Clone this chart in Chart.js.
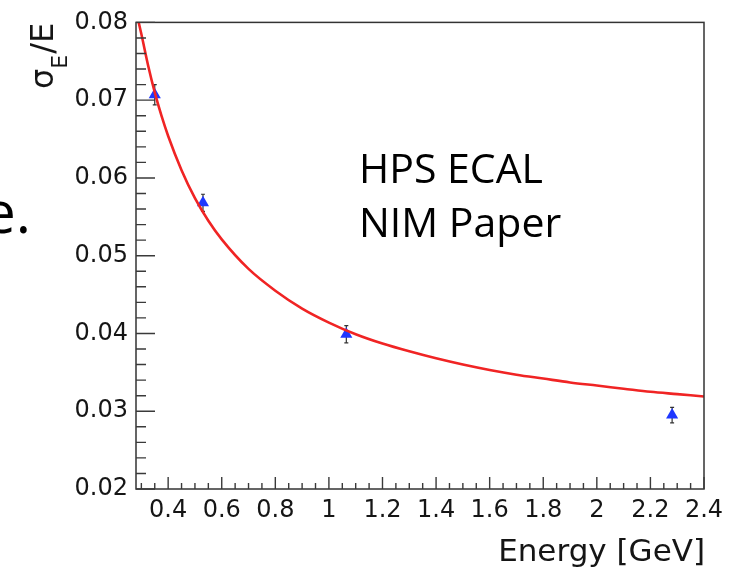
<!DOCTYPE html>
<html>
<head>
<meta charset="utf-8">
<script src="https://cdn.jsdelivr.net/npm/chart.js@4.4.1/dist/chart.umd.min.js"></script>
<style>
  html, body { margin: 0; padding: 0; background: #fff; }
  #wrap { width: 748px; height: 569px; position: relative; }
</style>
</head>
<body>
<div id="wrap"><canvas id="res" width="748" height="569"></canvas></div>
<script>
// measured points (energy in GeV, relative resolution, error)
const measEnergy = [0.35, 0.530, 1.065, 2.281];
const measSigma = [0.0707, 0.0568, 0.0399, 0.0295];
const measErr = [0.0013, 0.0011, 0.0011, 0.0010];

// fit curve
const fitEnergy = [0.29, 0.30, 0.325, 0.35, 0.375, 0.40, 0.45, 0.50, 0.55, 0.60, 0.70, 0.80, 0.90, 1.00,
                   1.10, 1.20, 1.30, 1.40, 1.50, 1.60, 1.70, 1.80, 1.90, 2.00, 2.10, 2.20, 2.30, 2.40];
const fitSigma = [0.0800, 0.0785, 0.0745, 0.0710, 0.0680, 0.0654, 0.0610, 0.0574, 0.0545, 0.0521, 0.0483,
                  0.0455, 0.0432, 0.0414, 0.0399, 0.0387, 0.0377, 0.0368, 0.0360, 0.0353, 0.0347, 0.0342,
                  0.0337, 0.0333, 0.0329, 0.0325, 0.0322, 0.0319];

// axes
const energyTicks = [0.4, 0.6, 0.8, 1.0, 1.2, 1.4, 1.6, 1.8, 2.0, 2.2, 2.4];
const sigmaTicks = [0.02, 0.03, 0.04, 0.05, 0.06, 0.07, 0.08];
const xMin = 0.28, xMax = 2.4, xMinorStep = 0.05;
const yMin = 0.02, yMax = 0.08, yMinorStep = 0.002;

const axisFont = 'DejaVu Sans';
const inkColor = '#151515';

const decor = {
  id: 'decor',
  beforeDatasetsDraw(chart) {
    // error bars under the markers
    const ctx = chart.ctx, x = chart.scales.x, y = chart.scales.y;
    ctx.save();
    ctx.strokeStyle = '#333';
    ctx.lineWidth = 1.2;
    for (let i = 0; i < measEnergy.length; i++) {
      const px = x.getPixelForValue(measEnergy[i]);
      const top = y.getPixelForValue(measSigma[i] + measErr[i]);
      const bot = y.getPixelForValue(measSigma[i] - measErr[i]);
      ctx.beginPath();
      ctx.moveTo(px, top); ctx.lineTo(px, bot);
      ctx.moveTo(px - 2, top); ctx.lineTo(px + 2, top);
      ctx.moveTo(px - 2, bot); ctx.lineTo(px + 2, bot);
      ctx.stroke();
    }
    ctx.restore();
  },
  afterDraw(chart) {
    const ctx = chart.ctx, a = chart.chartArea, x = chart.scales.x, y = chart.scales.y;
    ctx.save();
    // frame
    ctx.strokeStyle = '#333';
    ctx.lineWidth = 1.5;
    ctx.strokeRect(a.left, a.top, a.right - a.left, a.bottom - a.top);

    // inside ticks, ROOT style
    ctx.lineWidth = 1.4;
    ctx.strokeStyle = '#3a3a3a';
    ctx.beginPath();
    for (let v = xMin; v <= xMax + 1e-9; v += xMinorStep) {
      const r = Math.round(v / xMinorStep) * xMinorStep;
      if (r < xMin - 1e-9) continue;
      const px = x.getPixelForValue(r);
      const major = Math.abs(r / 0.2 - Math.round(r / 0.2)) < 1e-6;
      ctx.moveTo(px, a.bottom);
      ctx.lineTo(px, a.bottom - (major ? 12 : 6));
    }
    for (let v = yMin; v <= yMax + 1e-9; v += yMinorStep) {
      const py = y.getPixelForValue(v);
      const major = Math.abs(v / 0.01 - Math.round(v / 0.01)) < 1e-6;
      ctx.moveTo(a.left, py);
      ctx.lineTo(a.left + (major ? 19 : 10), py);
    }
    ctx.stroke();

    // x title, right aligned at the frame edge
    ctx.fillStyle = inkColor;
    ctx.font = '31px "' + axisFont + '"';
    ctx.textAlign = 'right';
    ctx.textBaseline = 'alphabetic';
    ctx.fillText('Energy [GeV]', a.right + 1, 561);

    // y title: sigma_E / E, rotated
    ctx.save();
    ctx.translate(53, 89);
    ctx.rotate(-Math.PI / 2);
    ctx.textAlign = 'left';
    ctx.font = '32px "' + axisFont + '"';
    ctx.fillText('σ', 0, 0);
    let off = ctx.measureText('σ').width;
    ctx.font = '22px "' + axisFont + '"';
    ctx.fillText('E', off, 14);
    off += ctx.measureText('E').width + 1;
    ctx.font = '32px "' + axisFont + '"';
    ctx.fillText('/E', off, 0);
    ctx.restore();

    // slide text around the plot
    ctx.font = '41px "Open Sans"';
    ctx.textAlign = 'left';
    ctx.fillStyle = '#000';
    ctx.fillText('HPS ECAL', 359, 183);
    ctx.fillText('NIM Paper', 359, 237);
    ctx.font = '58px "Open Sans"';
    ctx.textAlign = 'right';
    ctx.fillText('e.', 31, 233);
    ctx.restore();
  }
};

new Chart(document.getElementById('res').getContext('2d'), {
  type: 'scatter',
  data: {
    datasets: [
      {
        type: 'line',
        label: 'fit',
        data: fitEnergy.map((e, i) => ({ x: e, y: fitSigma[i] })),
        borderColor: 'rgb(240,36,36)',
        borderWidth: 2.6,
        pointRadius: 0,
        fill: false,
        cubicInterpolationMode: 'monotone'
      },
      {
        label: 'data',
        data: measEnergy.map((e, i) => ({ x: e, y: measSigma[i] })),
        pointStyle: 'triangle',
        pointRadius: 7,
        backgroundColor: 'rgb(30,55,255)',
        borderColor: 'rgb(30,55,255)',
        borderWidth: 0
      }
    ]
  },
  options: {
    responsive: false,
    animation: false,
    devicePixelRatio: 1,
    layout: { padding: { top: 19, right: 44, left: 0, bottom: 0 } },
    plugins: { legend: { display: false }, tooltip: { enabled: false } },
    scales: {
      x: {
        type: 'linear',
        min: xMin,
        max: xMax,
        grid: { display: false, drawTicks: false },
        border: { display: false },
        afterBuildTicks: s => { s.ticks = energyTicks.map(v => ({ value: v })); },
        afterFit: s => { s.height = 80; },
        ticks: {
          padding: 7,
          color: inkColor,
          font: { family: axisFont, size: 24 },
          maxRotation: 0,
          autoSkip: false,
          callback: v => String(Number(v.toFixed(1)))
        }
      },
      y: {
        type: 'linear',
        min: yMin,
        max: yMax,
        grid: { display: false, drawTicks: false },
        border: { display: false },
        afterBuildTicks: s => { s.ticks = sigmaTicks.map(v => ({ value: v })); },
        afterFit: s => { s.width = 136; },
        ticks: {
          padding: 8,
          color: inkColor,
          font: { family: axisFont, size: 24 },
          autoSkip: false,
          callback: v => v.toFixed(2)
        }
      }
    }
  },
  plugins: [decor]
});
</script>
</body>
</html>
